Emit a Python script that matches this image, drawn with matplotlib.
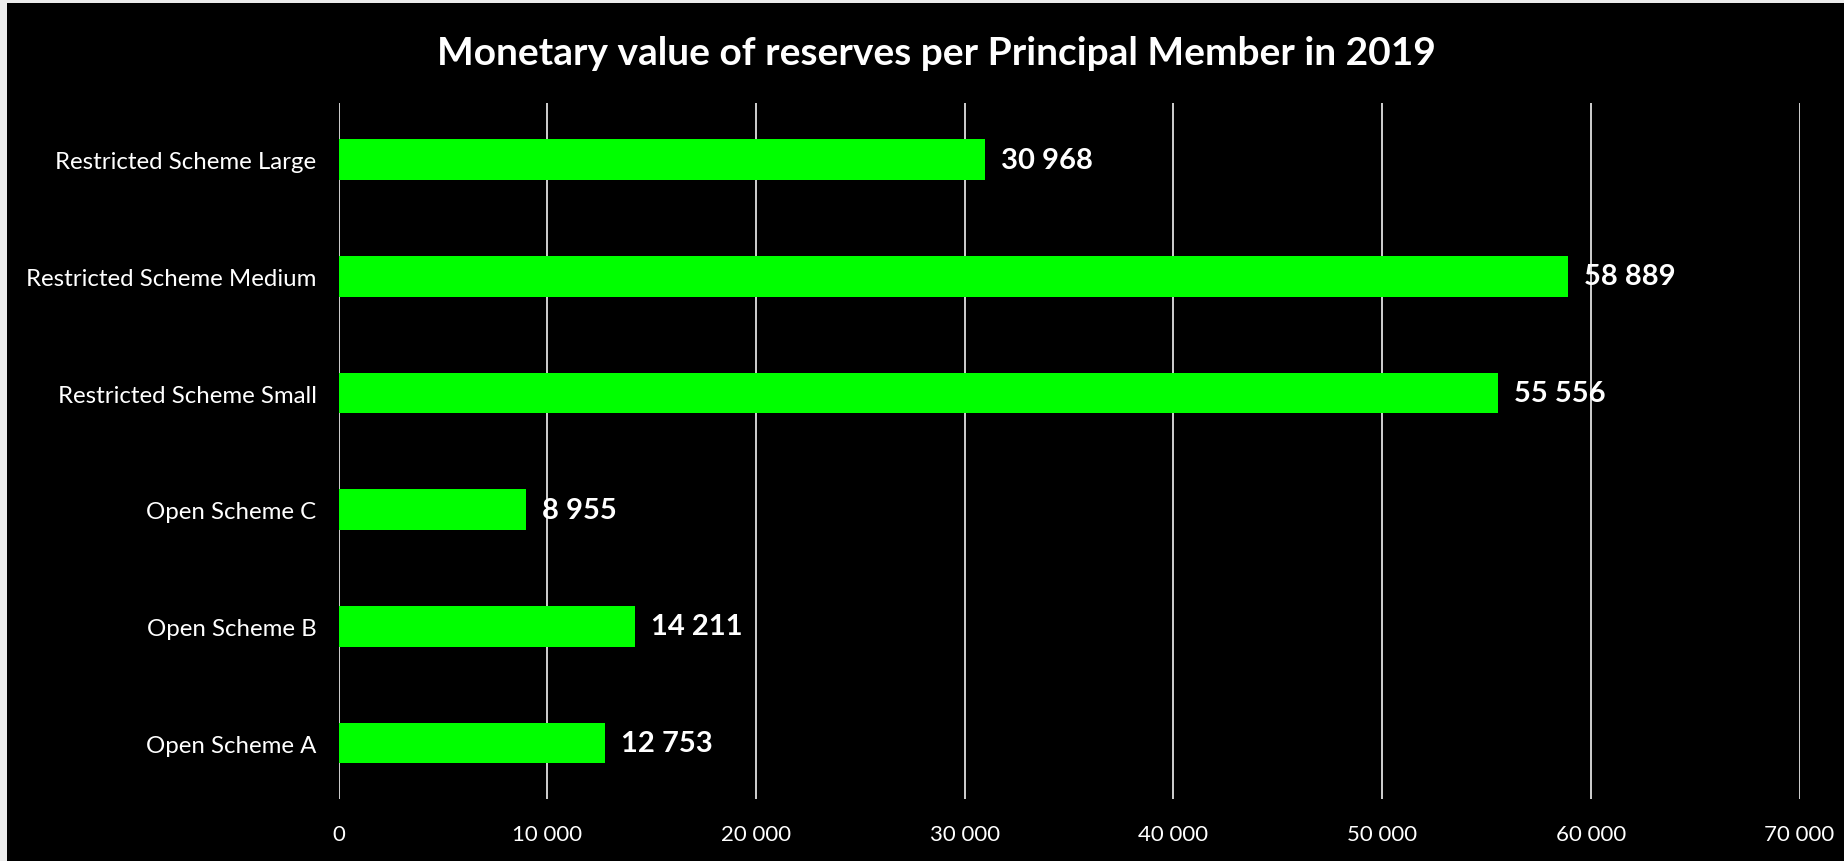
import matplotlib
matplotlib.use("Agg")
import matplotlib.pyplot as plt
from matplotlib.patches import Rectangle
from matplotlib.ticker import FuncFormatter

plt.rcParams['font.family'] = ['Lato', 'DejaVu Sans']

schemes = ['Open Scheme A', 'Open Scheme B', 'Open Scheme C',
           'Restricted Scheme Small', 'Restricted Scheme Medium',
           'Restricted Scheme Large']
reserves = [12753, 14211, 8955, 55556, 58889, 30968]
x_ticks = [0, 10000, 20000, 30000, 40000, 50000, 60000, 70000]


def spaced(v, pos=None):
    return '{:,}'.format(int(v)).replace(',', ' ')


fig = plt.figure(figsize=(18.44, 8.62), dpi=100, facecolor='#ececec')
# black panel inside a thin light frame on the top and left
fig.patches.append(Rectangle((7 / 1844, 0), 1, 1 - 4 / 862, transform=fig.transFigure,
                             facecolor='black', edgecolor='none', zorder=-10))

ax = fig.add_axes([0.1837, 0.0719, 0.7922, 0.808])
ax.set_facecolor('black')

pos = list(range(len(schemes)))
ax.barh(pos, reserves, height=0.35, color='#00ff00', zorder=3)

for p, v in zip(pos, reserves):
    ax.annotate(spaced(v), (v, p), xytext=(11.5, 0), textcoords='offset points',
                va='center', ha='left', color='white', fontsize=21,
                fontweight='bold', zorder=4)

ax.set_xlim(0, 70000)
ax.set_ylim(-0.48, 5.49)
ax.set_xticks(x_ticks)
ax.xaxis.set_major_formatter(FuncFormatter(spaced))
ax.set_yticks(pos)
ax.set_yticklabels(schemes)
ax.tick_params(axis='both', length=0, colors='white')
ax.tick_params(axis='x', pad=18, labelsize=16)
ax.tick_params(axis='y', pad=16, labelsize=17.3)
ax.grid(axis='x', color='#d0d0d0', linewidth=1.4, zorder=1)
for s in ax.spines.values():
    s.set_visible(False)

fig.text(0.5076, 0.9385, 'Monetary value of reserves per Principal Member in 2019',
         ha='center', va='center', color='white', fontsize=28, fontweight='bold')

fig.savefig('out.png', dpi=100, facecolor=fig.get_facecolor())
